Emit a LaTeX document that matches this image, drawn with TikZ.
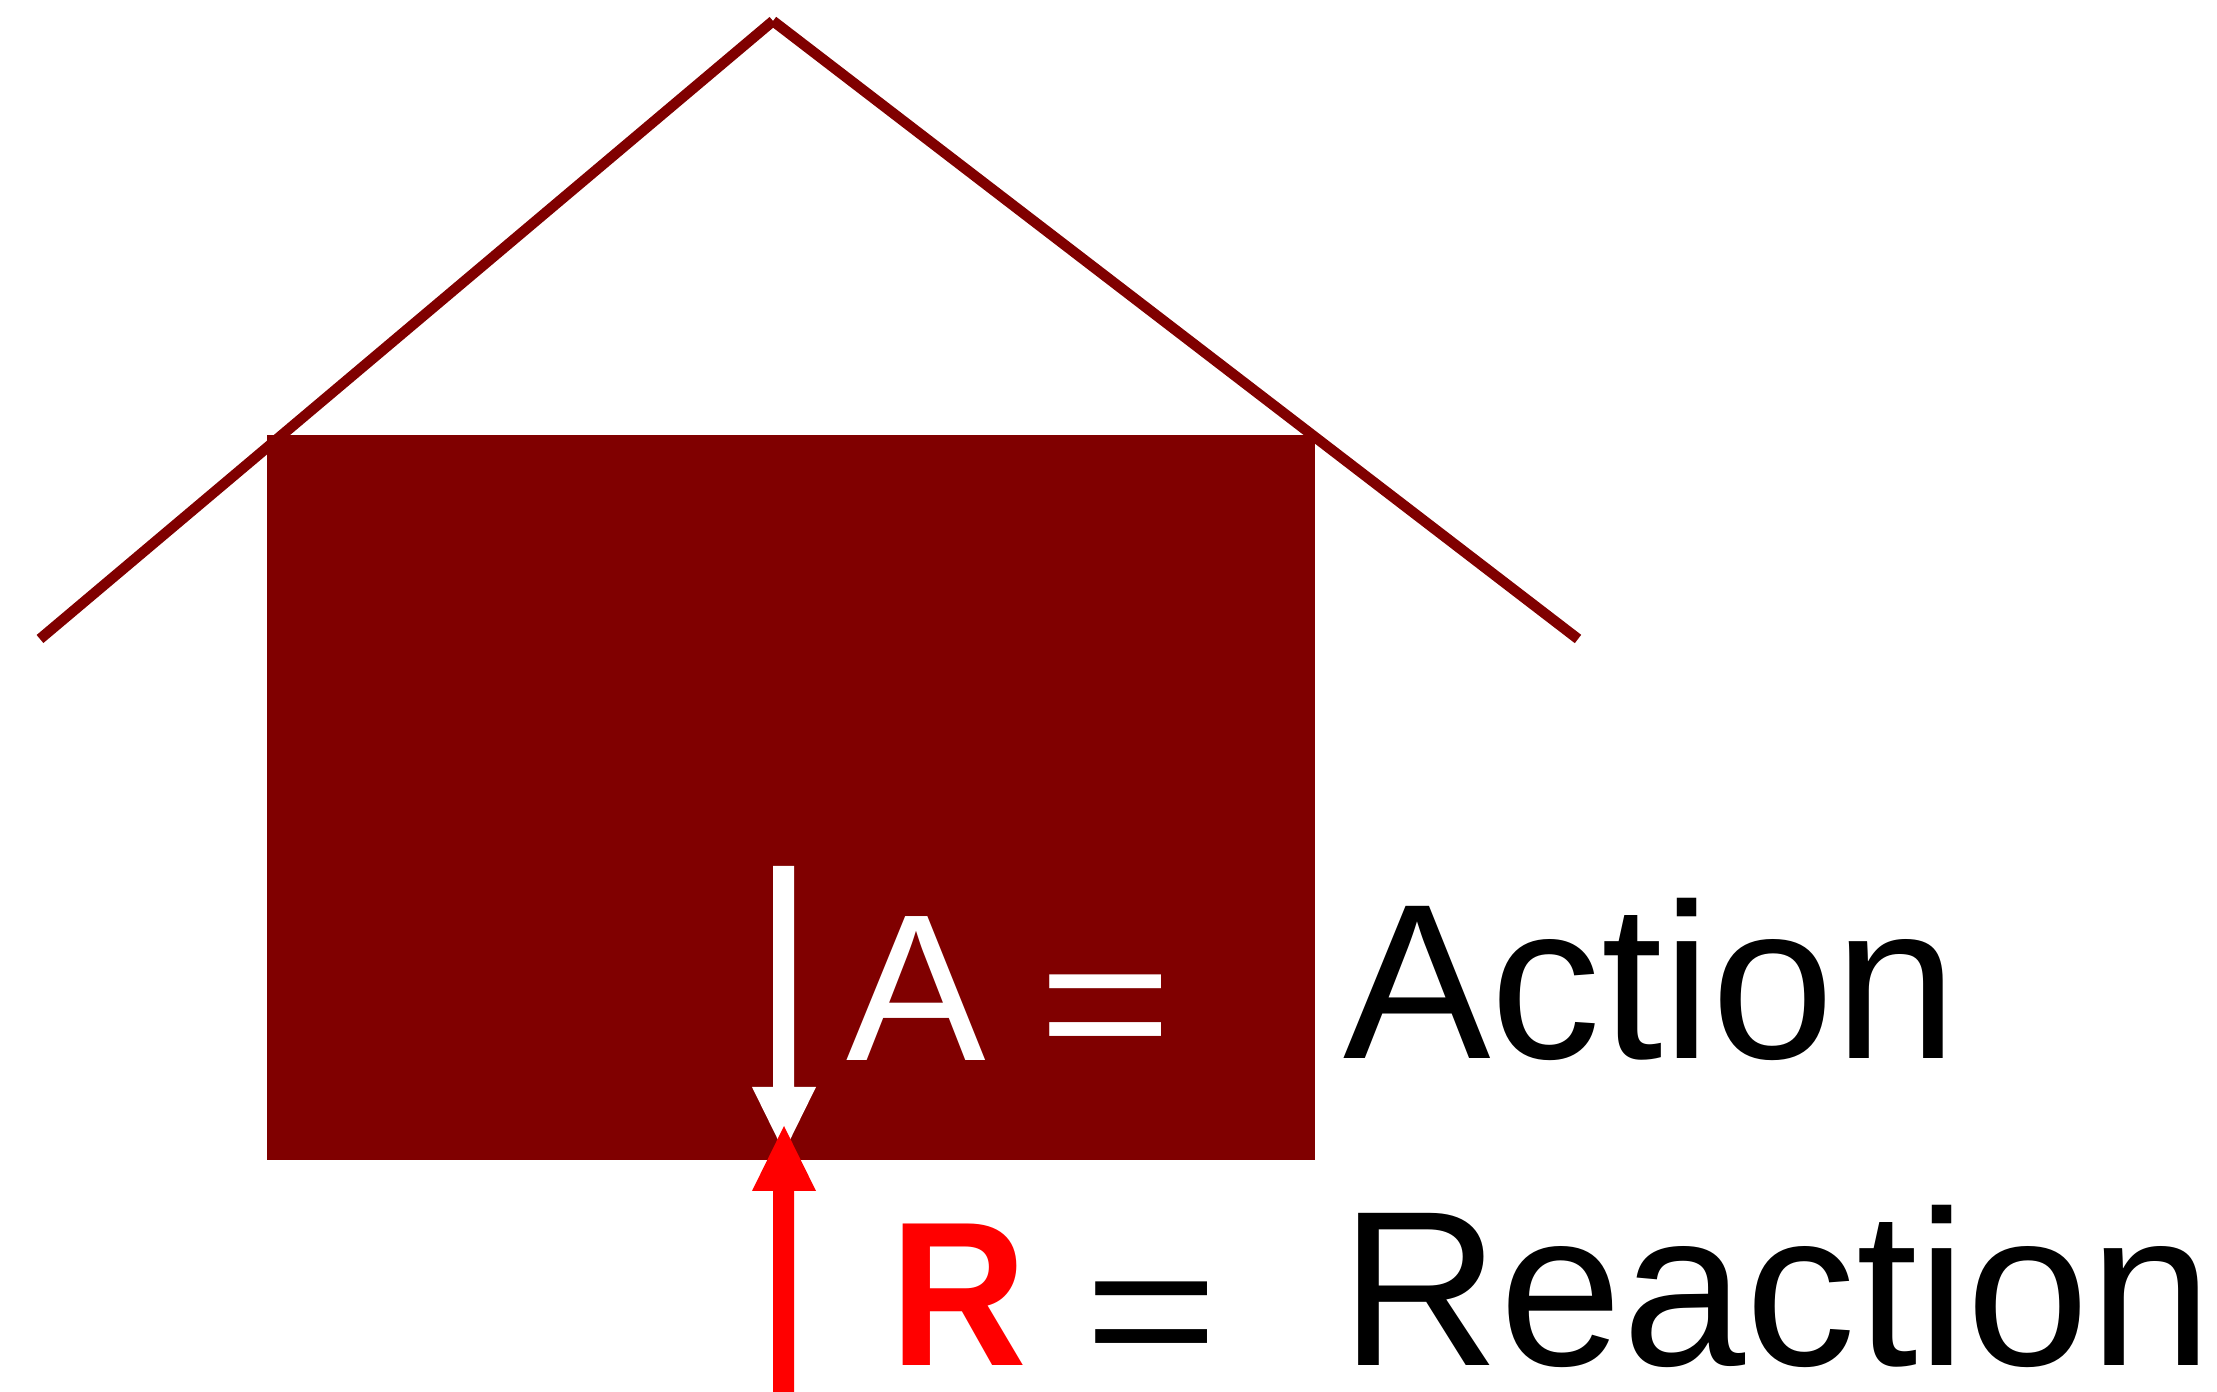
\documentclass[tikz,border=0pt]{standalone}
\usepackage{fontspec}
\setmainfont{Liberation Sans}
\definecolor{maroon}{HTML}{800000}
\definecolor{redc}{HTML}{FF0000}
\begin{document}
\begin{tikzpicture}[x=0.01cm,y=-0.01cm,
  roof/.style={draw=maroon,line width=0.105cm,line cap=butt},
  bigtxt/.style={inner sep=0pt,outer sep=0pt,font=\fontsize{62.9pt}{64pt}\selectfont},
  atxt/.style={inner sep=0pt,outer sep=0pt,font=\fontsize{59.5pt}{60pt}\selectfont},
  eqtxt/.style={inner sep=0pt,outer sep=0pt,font=\fontsize{58.4pt}{60pt}\selectfont,xscale=1.12,yscale=0.93,transform shape},
  rtxt/.style={inner sep=0pt,outer sep=0pt,font=\fontsize{58.5pt}{60pt}\selectfont\bfseries,xscale=0.92,transform shape}]
\useasboundingbox (0,0) rectangle (2217,1392);
% roof
\coordinate (apex) at (773,21);
\coordinate (lend) at (40,639);
\coordinate (rend) at (1578,639);
\draw[roof] (apex) -- (lend);
\draw[roof] (apex) -- (rend);
% block
\fill[maroon] (267,435) rectangle (1315,1160);
% white action arrow
\fill[white] (773,866) -- (794,866) -- (794,1087) -- (816,1087) -- (784,1152) -- (752,1087) -- (773,1087) -- cycle;
% red reaction arrow
\fill[redc] (773,1392) -- (794,1392) -- (794,1191) -- (816,1191) -- (784,1126) -- (752,1191) -- (773,1191) -- cycle;
% labels
\node[atxt,text=white,anchor=base west] (A) at (846,1061) {A};
\node[eqtxt,text=white,anchor=base west] (eq1) at (1038,1069) {=};
\node[bigtxt,anchor=base west] (act) at (1343,1059) {Action};
\node[rtxt,text=redc,anchor=base west] (R) at (890,1366) {R};
\node[eqtxt,anchor=base west] (eq2) at (1084,1376) {=};
\node[bigtxt,anchor=base west] (react) at (1340,1366) {Reaction};
\end{tikzpicture}
\end{document}
